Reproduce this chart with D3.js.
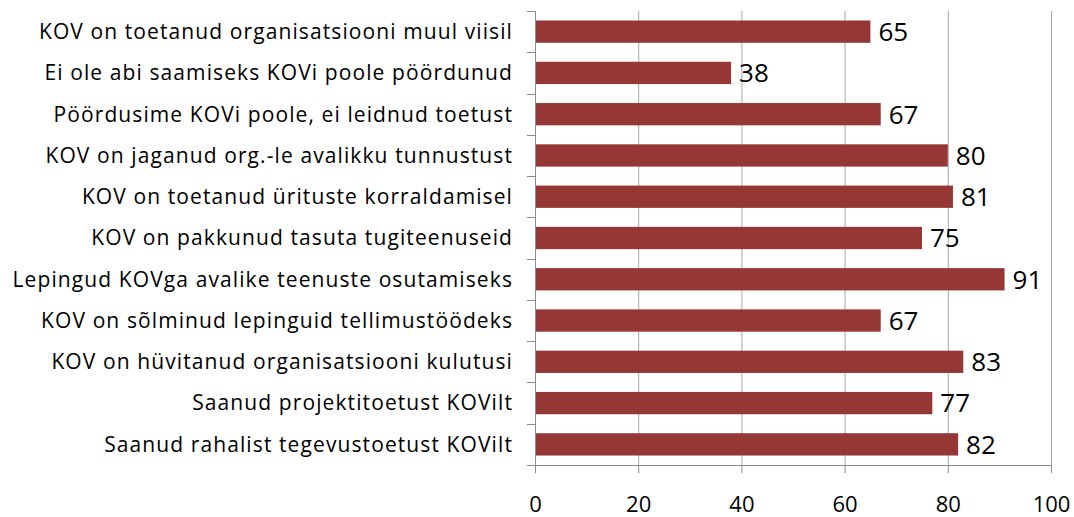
<html>
  <head>
    <meta charset="utf-8">
    <style>
body { margin: 0; background: #fff; }
.bar { fill: #953735; }
.grid line { stroke: #a6a6a6; }
.axis path, .axis line { stroke: #8c8c8c; }
.axis text { fill: #000; font-family: "Open Sans", sans-serif; }
.value { font-family: "Open Sans", sans-serif; font-size: 26px; fill: #000; }
    </style>
  </head>
  <body>
    <svg width="1074" height="517"></svg>
    <script src="https://d3js.org/d3.v7.min.js"></script>
    <script>

// categories listed top to bottom
var categories = [
  "KOV on toetanud organisatsiooni muul viisil",
  "Ei ole abi saamiseks KOVi poole pöördunud",
  "Pöördusime KOVi poole, ei leidnud toetust",
  "KOV on jaganud org.-le avalikku tunnustust",
  "KOV on toetanud ürituste korraldamisel",
  "KOV on pakkunud tasuta tugiteenuseid",
  "Lepingud KOVga avalike teenuste osutamiseks",
  "KOV on sõlminud lepinguid tellimustöödeks",
  "KOV on hüvitanud organisatsiooni kulutusi",
  "Saanud projektitoetust KOVilt",
  "Saanud rahalist tegevustoetust KOVilt"
];
var values = [65, 38, 67, 80, 81, 75, 91, 67, 83, 77, 82];
var xTicks = [0, 20, 40, 60, 80, 100];

var data = categories.map(function(c, i) { return {name: c, value: values[i]}; });

var svg = d3.select("svg"),
    margin = {top: 11, right: 23, bottom: 52, left: 535},
    width = +svg.attr("width") - margin.left - margin.right,
    height = +svg.attr("height") - margin.top - margin.bottom;

var x = d3.scaleLinear().domain([0, 100]).range([0, width]),
    y = d3.scaleBand().domain(categories).range([0, height]).paddingInner(0.46).paddingOuter(0.23);

var g = svg.append("g")
  .attr("transform", "translate(" + margin.left + "," + margin.top + ")");

// vertical gridlines
g.append("g")
  .attr("class", "grid")
  .selectAll("line")
  .data(xTicks.slice(1))
  .enter().append("line")
  .attr("x1", function(d) { return x(d) + 0.5; })
  .attr("x2", function(d) { return x(d) + 0.5; })
  .attr("y1", 0)
  .attr("y2", height);

var xAxis = g.append("g")
  .attr("class", "axis axis--x")
  .attr("transform", "translate(0," + height + ")")
  .call(d3.axisBottom(x).tickValues(xTicks).tickSize(8).tickPadding(23));
xAxis.selectAll("text").style("font-size", "22px");

// category ticks sit between bands
var yAxis = g.append("g")
  .attr("class", "axis axis--y");
yAxis.append("line")
  .attr("x1", 0.5).attr("x2", 0.5).attr("y1", 0).attr("y2", height);
yAxis.selectAll(".sep")
  .data(d3.range(categories.length + 1))
  .enter().append("line")
  .attr("class", "sep")
  .attr("x1", -8).attr("x2", 0)
  .attr("y1", function(i) { return Math.round(i * height / categories.length) + 0.5; })
  .attr("y2", function(i) { return Math.round(i * height / categories.length) + 0.5; });
yAxis.selectAll("text")
  .data(categories)
  .enter().append("text")
  .attr("x", -22)
  .attr("y", function(d) { return y(d) + y.bandwidth() / 2; })
  .attr("dy", "0.35em")
  .attr("text-anchor", "end")
  .style("font-size", "21px")
  .style("letter-spacing", "1.1px")
  .text(function(d) { return d; });

g.selectAll(".bar")
  .data(data)
  .enter().append("rect")
  .attr("class", "bar")
  .attr("x", 1)
  .attr("y", function(d) { return y(d.name); })
  .attr("width", function(d) { return x(d.value) - 1; })
  .attr("height", y.bandwidth());

g.selectAll(".value")
  .data(data)
  .enter().append("text")
  .attr("class", "value")
  .attr("x", function(d) { return x(d.value) + 8; })
  .attr("y", function(d) { return y(d.name) + y.bandwidth() / 2; })
  .attr("dy", "0.36em")
  .text(function(d) { return d.value; });

    </script>
  </body>
</html>
